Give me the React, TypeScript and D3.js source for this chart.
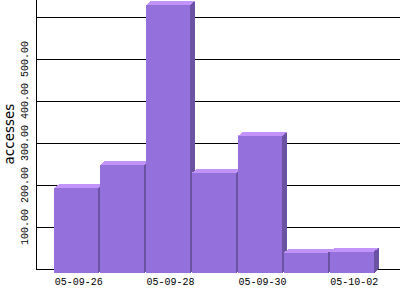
import React from "react";
import * as d3 from "d3";

const categories = ["05-09-26", "05-09-27", "05-09-28", "05-09-29", "05-09-30", "05-10-01", "05-10-02"];
const values = [202, 257, 638, 238, 326, 48, 51];
const yTicks = [100, 200, 300, 400, 500, 600];
const yTickLabels = ["100.00", "200.00", "300.00", "400.00", "500.00", ""];
const shownXLabels = ["05-09-26", "05-09-28", "05-09-30", "05-10-02"];
const yTitle = "accesses";

export default function App() {
  const W = 400, H = 300;
  const axisX = 36;
  const dx = 5, dy = 4;
  const y = d3.scaleLinear().domain([0, 600]).range([269, 17]);
  const x = d3.scaleBand().domain(categories).range([54, 374]).paddingInner(0.035).paddingOuter(0);
  const bw = x.bandwidth();
  const front = "#9370db", top = "#c294f9", side = "#6b52a3";
  return (
    <svg width={W} height={H} style={{ position: "absolute", left: 0, top: 0, background: "#fff" }}>
      {yTicks.map((t) => (
        <line key={t} x1={axisX} x2={W} y1={y(t)} y2={y(t)} stroke="#000" strokeWidth={1} shapeRendering="crispEdges" />
      ))}
      <line x1={axisX} x2={W} y1={y(0)} y2={y(0)} stroke="#000" shapeRendering="crispEdges" />
      <line x1={axisX} x2={axisX} y1={0} y2={y(0)} stroke="#000" shapeRendering="crispEdges" />
      {categories.map((c, i) => {
        const x0 = x(c)!;
        const x1 = x0 + bw;
        const yt = y(values[i]) + dy;
        const yb = y(0) + dy;
        return (
          <g key={c} shapeRendering="crispEdges">
            <polygon points={`${x1},${yt} ${x1 + dx},${yt - dy} ${x1 + dx},${yb - dy} ${x1},${yb}`} fill={side} />
            <polygon points={`${x0},${yt} ${x0 + dx},${yt - dy} ${x1 + dx},${yt - dy} ${x1},${yt}`} fill={top} />
            <rect x={x0} y={yt} width={bw} height={yb - yt} fill={front} />
          </g>
        );
      })}
      {yTicks.map((t, i) => (
        <text key={t} transform={`translate(28,${y(t)}) rotate(-90)`} textAnchor="middle" fontFamily="Liberation Mono" fontSize={10} fill="#000">
          {yTickLabels[i]}
        </text>
      ))}
      <text transform={`translate(14,134) rotate(-90)`} textAnchor="middle" fontFamily="DejaVu Sans" fontSize={13.5} fill="#000">
        {yTitle}
      </text>
      {shownXLabels.map((c) => (
        <text key={c} x={x(c)! + bw / 2 + 2.5} y={285} textAnchor="middle" fontFamily="Liberation Mono" fontSize={10} fill="#000">
          {c}
        </text>
      ))}
    </svg>
  );
}
